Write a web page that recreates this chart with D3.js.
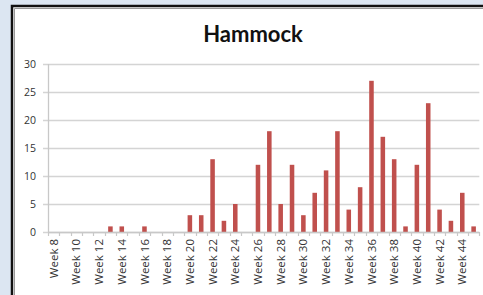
<!DOCTYPE html>
<html>
<head>
<meta charset="utf-8">
<script src="https://cdn.jsdelivr.net/npm/d3@7"></script>
<style>
body{margin:0;padding:0;background:#dce6f2;}
svg{display:block;}
</style>
</head>
<body>
<div id="chart"></div>
<script>
// weekly counts, week 8 .. week 45
var weeks = d3.range(8, 46).map(function(w){ return "Week " + w; });
var counts = [0,0,0,0,0,1,1,0,1,0,0,0,3,3,13,2,5,0,12,18,5,12,3,7,11,18,4,8,27,17,13,1,12,23,4,2,7,1];
var yTicks = [0,5,10,15,20,25,30];
var chartTitle = "Hammock";

function draw(){
var W = 483, H = 295;
var svg = d3.select("#chart").append("svg")
    .attr("width", W)
    .attr("height", H);

svg.append("rect").attr("width", W).attr("height", H).attr("fill", "#dce6f2");

// white chart box with dark frame
svg.append("rect")
    .attr("x", 12).attr("y", 6)
    .attr("width", W + 10).attr("height", H + 10)
    .attr("fill", "#fff")
    .attr("stroke", "#111")
    .attr("stroke-width", 2.5);
svg.append("path")
    .attr("d", "M14.5," + H + "V8.5H" + W)
    .attr("fill", "none")
    .attr("stroke", "#999")
    .attr("stroke-width", 1);

var pLeft = 48, pRight = 479.3, pTop = 64, pBottom = 232;

var x = d3.scaleBand().domain(weeks).range([pLeft, pRight]).paddingInner(0.6).paddingOuter(0.3);
var xb = d3.scaleBand().domain(weeks).range([pLeft, pRight]);
var y = d3.scaleLinear().domain([0, 30]).range([pBottom, pTop]);

svg.append("text")
    .attr("x", 253).attr("y", 42)
    .attr("text-anchor", "middle")
    .style("font-family", "Lato, 'Open Sans', sans-serif")
    .style("font-weight", "bold")
    .style("font-size", "22px")
    .style("fill", "#111")
    .text(chartTitle);

// gridlines + y ticks
var grid = svg.append("g");
grid.selectAll("line")
    .data(yTicks)
    .enter().append("line")
    .attr("x1", pLeft - 5).attr("x2", pRight)
    .attr("y1", function(d){ return Math.round(y(d)) + 0.5; })
    .attr("y2", function(d){ return Math.round(y(d)) + 0.5; })
    .attr("stroke", "#d4d4d4")
    .attr("stroke-width", 1.3);

grid.selectAll("text")
    .data(yTicks)
    .enter().append("text")
    .attr("x", pLeft - 12)
    .attr("y", function(d){ return y(d); })
    .attr("dy", "0.35em")
    .attr("text-anchor", "end")
    .style("font-family", "'Open Sans', sans-serif")
    .style("font-size", "10.5px")
    .style("fill", "#333")
    .text(function(d){ return d; });

// y axis line
svg.append("line")
    .attr("x1", pLeft + 0.5).attr("x2", pLeft + 0.5)
    .attr("y1", pTop).attr("y2", pBottom)
    .attr("stroke", "#c8c8c8").attr("stroke-width", 1.3);

// bars
svg.append("g")
    .selectAll("rect")
    .data(counts)
    .enter().append("rect")
    .attr("x", function(d, i){ return x(weeks[i]); })
    .attr("width", x.bandwidth())
    .attr("y", function(d){ return y(d); })
    .attr("height", function(d){ return pBottom - y(d); })
    .attr("fill", "#c0504d");

// x axis ticks
var ax = svg.append("g");
ax.selectAll("line")
    .data(weeks.concat(["end"]))
    .enter().append("line")
    .attr("x1", function(d, i){ return Math.round(pLeft + i * xb.step()) + 0.5; })
    .attr("x2", function(d, i){ return Math.round(pLeft + i * xb.step()) + 0.5; })
    .attr("y1", pBottom).attr("y2", pBottom + 4)
    .attr("stroke", "#c8c8c8").attr("stroke-width", 1.2);
svg.append("line")
    .attr("x1", pLeft).attr("x2", pRight)
    .attr("y1", pBottom + 0.5).attr("y2", pBottom + 0.5)
    .attr("stroke", "#c8c8c8").attr("stroke-width", 1.3);

ax.selectAll("text")
    .data(weeks.filter(function(d, i){ return i % 2 == 0; }))
    .enter().append("text")
    .attr("transform", function(d){
        return "translate(" + (xb(d) + xb.bandwidth() / 2) + "," + (pBottom + 7) + ") rotate(-90)";
    })
    .attr("dy", "0.35em")
    .attr("text-anchor", "end")
    .style("font-family", "'Open Sans', sans-serif")
    .style("font-size", "11.5px")
    .style("fill", "#333")
    .text(function(d){ return d; });
}
draw();
</script>
</body>
</html>
